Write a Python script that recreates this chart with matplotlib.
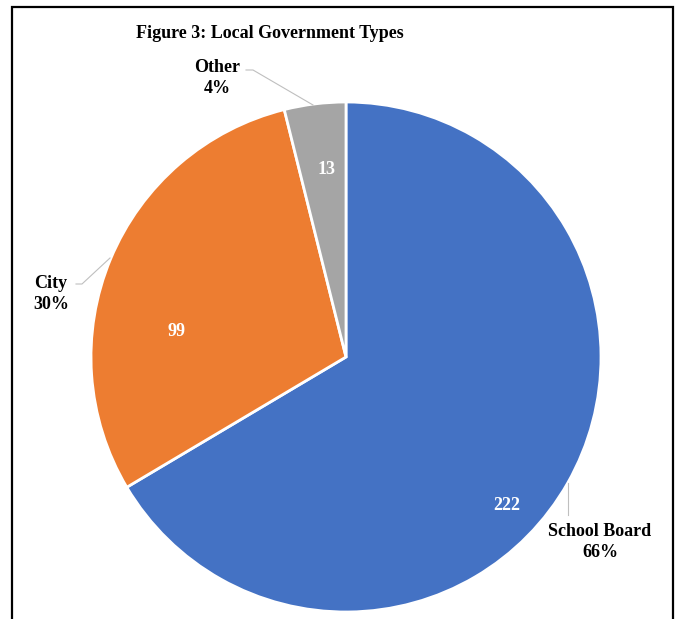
import matplotlib.pyplot as plt

# Data
categories = ['School Board', 'City', 'Other']
counts = [222, 99, 13]
percents = ['66%', '30%', '4%']
colors = ['#4472C4', '#ED7D31', '#A5A5A5']

W, H = 685, 619


def Y(y):
    # convert from top-down pixel rows to axes y
    return H - y


fig = plt.figure(figsize=(W / 100, H / 100), dpi=100)
ax = fig.add_axes([0, 0, 1, 1])

serif = ['Liberation Serif', 'DejaVu Serif']

# Pie, starting at 12 o'clock going clockwise
wedges, _ = ax.pie(counts, colors=colors, startangle=90, counterclock=False,
                   center=(346, Y(357)), radius=255, frame=True,
                   wedgeprops=dict(edgecolor='white', linewidth=2))
ax.set_xlim(0, W)
ax.set_ylim(0, H)
ax.set_aspect('equal')
ax.axis('off')

# value labels inside the slices
inner_pos = [(507, 505), (177, 331), (327, 170)]
for (x, y), v in zip(inner_pos, counts):
    ax.text(x, Y(y), str(v), color='white', fontsize=13, fontweight='bold',
            family=serif, ha='center', va='center')

# category labels with leader lines
lbl = dict(fontsize=13, fontweight='bold', family=serif, ha='center',
           va='center', linespacing=1.3)
ax.text(600, Y(542), f'{categories[0]}\n{percents[0]}', **lbl)
ax.plot([568, 568], [Y(483), Y(515)], color='#BFBFBF', lw=0.8)

ax.text(51, Y(294), f'{categories[1]}\n{percents[1]}', **lbl)
ax.plot([76, 82, 110], [Y(284), Y(284), Y(258)], color='#BFBFBF', lw=0.8)

ax.text(217, Y(78), f'{categories[2]}\n{percents[2]}', **lbl)
ax.plot([246, 253, 313], [Y(70), Y(70), Y(105)], color='#BFBFBF', lw=0.8)

# title
ax.text(270, Y(33), 'Figure 3: Local Government Types', fontsize=13,
        fontweight='bold', family=serif, ha='center', va='center')

# chart border (bottom edge cut off)
ax.plot([12, 12, 673, 673], [0, Y(7), Y(7), 0], color='black', lw=1.6,
        solid_joinstyle='miter')

fig.savefig('out.png', dpi=100)
